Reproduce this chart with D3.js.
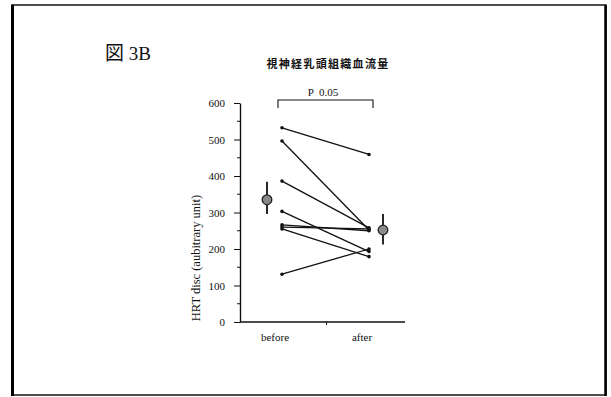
<!DOCTYPE html>
<html>
<head>
<meta charset="utf-8">
<script src="https://cdn.jsdelivr.net/npm/d3@7"></script>
<style>
  body { margin: 0; background: #fff; }
  svg { display: block; }
  .axis text { font-family: "Liberation Serif", "DejaVu Serif", serif; font-size: 11px; fill: #111; }
  .axis path, .axis line { stroke: #111; }
</style>
</head>
<body>
<svg id="chart"></svg>
<script>
// data
const groups = ['before', 'after'];
const beforeValues = [532, 496, 386, 303, 266, 260, 255, 131];
const afterValues = [459, 252, 258, 193, 250, 255, 179, 200];
const meanValues = [335, 252];
const errLow = [296, 212];
const errHigh = [384, 296];
const yTicks = [0, 100, 200, 300, 400, 500, 600];
const yMinorTicks = [50, 150, 250, 350, 450, 550];

const width = 611, height = 397;

const svg = d3.select('#chart')
    .attr('width', width)
    .attr('height', height);

// outer frame
svg.append('rect')
    .attr('x', 12).attr('y', 5)
    .attr('width', 594).attr('height', 390)
    .attr('fill', 'none')
    .attr('stroke', '#222')
    .attr('stroke-width', 1.6);
svg.append('line').attr('x1', 12.5).attr('x2', 12.5).attr('y1', 5).attr('y2', 396)
    .attr('stroke', '#000').attr('stroke-width', 3);
svg.append('line').attr('x1', 605.5).attr('x2', 605.5).attr('y1', 5).attr('y2', 396)
    .attr('stroke', '#000').attr('stroke-width', 2.5);

// scales
const y = d3.scaleLinear().domain([0, 600]).range([322, 103]);
const x = d3.scalePoint().domain(groups).range([282, 369]);
const axisX0 = 240, axisX1 = 405;

// y axis
const yAxis = d3.axisLeft(y)
    .tickValues(yTicks)
    .tickSize(6)
    .tickPadding(9)
    .tickSizeOuter(0);
const yAxisG = svg.append('g')
    .attr('class', 'axis')
    .attr('transform', `translate(${axisX0},0)`)
    .call(yAxis);
yAxisG.select('.domain').attr('stroke-width', 1.4);

svg.append('g')
    .selectAll('line')
    .data(yMinorTicks)
    .join('line')
        .attr('x1', axisX0 - 3)
        .attr('x2', axisX0)
        .attr('y1', d => y(d))
        .attr('y2', d => y(d))
        .attr('stroke', '#111');

// x axis
svg.append('line')
    .attr('x1', axisX0).attr('x2', axisX1)
    .attr('y1', y(0)).attr('y2', y(0))
    .attr('stroke', '#111').attr('stroke-width', 1.4);
svg.append('line')
    .attr('x1', (axisX0 + axisX1) / 2 + 4).attr('x2', (axisX0 + axisX1) / 2 + 4)
    .attr('y1', y(0)).attr('y2', y(0) + 3)
    .attr('stroke', '#111');

svg.append('g')
    .attr('class', 'axis')
    .selectAll('text')
    .data(groups)
    .join('text')
        .attr('x', d => x(d) - 7)
        .attr('y', 341)
        .attr('text-anchor', 'middle')
        .text(d => d);

// y axis title
svg.append('text')
    .attr('transform', 'translate(200,258) rotate(-90)')
    .attr('text-anchor', 'middle')
    .attr('font-family', '"Liberation Serif", serif')
    .attr('font-size', 12.5)
    .attr('fill', '#111')
    .text('HRT disc (aubitrary unit)');

// paired lines
const pairs = beforeValues.map((v, i) => ({before: v, after: afterValues[i]}));

svg.append('g')
    .selectAll('line')
    .data(pairs)
    .join('line')
        .attr('x1', x('before'))
        .attr('x2', x('after'))
        .attr('y1', d => y(d.before))
        .attr('y2', d => y(d.after))
        .attr('stroke', '#111')
        .attr('stroke-width', 1.3);

const pts = pairs.flatMap(d => [{g: 'before', v: d.before}, {g: 'after', v: d.after}]);
svg.append('g')
    .selectAll('circle')
    .data(pts)
    .join('circle')
        .attr('cx', d => x(d.g))
        .attr('cy', d => y(d.v))
        .attr('r', 1.8)
        .attr('fill', '#111');

// mean +/- sd markers
const meanOffset = [-15, 14];
const means = groups.map((g, i) => ({g, m: meanValues[i], lo: errLow[i], hi: errHigh[i], cx: x(g) + meanOffset[i]}));

svg.append('g')
    .selectAll('line')
    .data(means)
    .join('line')
        .attr('x1', d => d.cx).attr('x2', d => d.cx)
        .attr('y1', d => y(d.hi)).attr('y2', d => y(d.lo))
        .attr('stroke', '#111')
        .attr('stroke-width', 1.8);

svg.append('g')
    .selectAll('circle')
    .data(means)
    .join('circle')
        .attr('cx', d => d.cx)
        .attr('cy', d => y(d.m))
        .attr('r', 4.8)
        .attr('fill', '#8a8a8a')
        .attr('stroke', '#222')
        .attr('stroke-width', 1.3);

// significance bracket
const bTop = 100, bLeg = 108;
svg.append('path')
    .attr('d', `M${x('before') - 4},${bLeg}V${bTop}H${x('after') + 4}V${bLeg}`)
    .attr('fill', 'none')
    .attr('stroke', '#111')
    .attr('stroke-width', 1.1);
svg.append('text')
    .attr('x', 323)
    .attr('y', 96)
    .attr('text-anchor', 'middle')
    .attr('font-family', '"Liberation Serif", serif')
    .attr('font-size', 11)
    .attr('fill', '#111')
    .style('white-space', 'pre')
    .text('P  0.05');

// titles
svg.append('text')
    .attr('x', 105)
    .attr('y', 60)
    .attr('font-family', '"Liberation Serif", "Noto Sans CJK JP", serif')
    .attr('font-size', 19)
    .attr('fill', '#111')
    .style('white-space', 'pre')
    .text('図 3B');

svg.append('text')
    .attr('x', 328)
    .attr('y', 68)
    .attr('text-anchor', 'middle')
    .attr('font-family', '"Noto Sans CJK JP", sans-serif')
    .attr('font-weight', 'bold')
    .attr('font-size', 11)
    .attr('letter-spacing', 1.3)
    .attr('fill', '#111')
    .text('視神経乳頭組織血流量');
</script>
</body>
</html>
